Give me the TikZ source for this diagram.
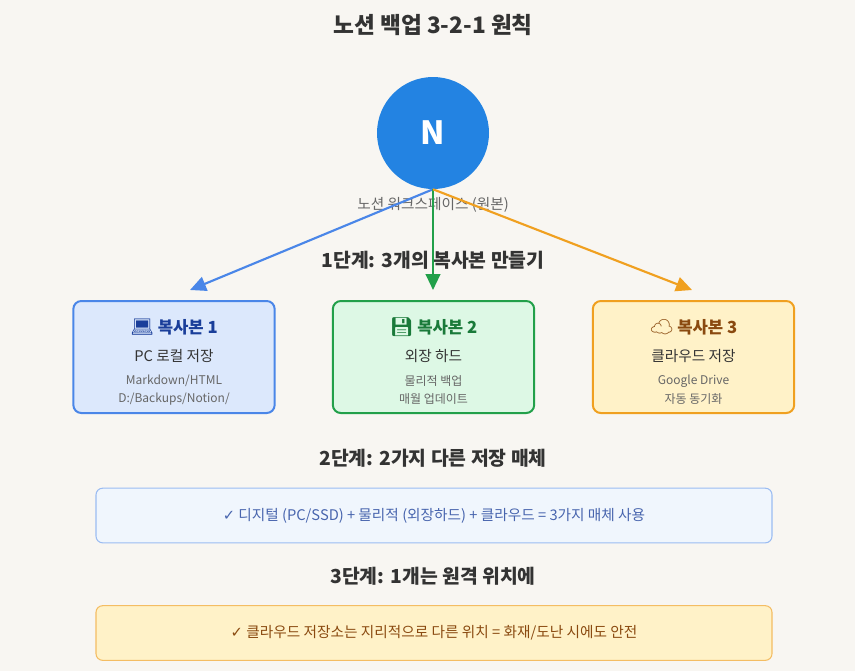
\documentclass[tikz,border=0pt]{standalone}
\usepackage{fontspec}
\setmainfont{Noto Sans CJK KR}
\newfontfamily\emo{Noto Emoji}
\newfontfamily\djsym{DejaVu Sans}
\definecolor{bg}{HTML}{F8F6F2}
\definecolor{nblue}{HTML}{2383E2}
\definecolor{b1}{HTML}{4A86E8}\definecolor{f1}{HTML}{DCE8FC}\definecolor{t1}{HTML}{1A3E9A}
\definecolor{b2}{HTML}{22A04A}\definecolor{f2}{HTML}{DDF8E5}\definecolor{t2}{HTML}{1A7A3A}
\definecolor{b3}{HTML}{F0A020}\definecolor{f3}{HTML}{FFF2C8}\definecolor{t3}{HTML}{8A4A10}
\definecolor{dark}{HTML}{333333}
\definecolor{gr}{HTML}{666666}
\usetikzlibrary{arrows.meta}
\begin{document}
\begin{tikzpicture}[x=0.75pt,y=-0.75pt,
  heading/.style={font=\bfseries\fontsize{14.5}{17}\selectfont,text=dark},
  card/.style={draw=#1,line width=1.5pt,rounded corners=6pt,minimum width=151pt,minimum height=84pt},
  ttl/.style={font=\bfseries\fontsize{12.5}{15}\selectfont},
  sub/.style={font=\fontsize{11}{13}\selectfont,text=dark},
  small/.style={font=\fontsize{9}{11}\selectfont,text=gr},
  arr/.style={line width=1.6pt,-{Triangle[length=12pt,width=11pt]}},
  wide/.style={draw=#1,line width=0.8pt,rounded corners=5pt,minimum width=507pt,minimum height=41pt}]
\fill[bg] (0,0) rectangle (855,671);
\node[font=\bfseries\fontsize{17}{20}\selectfont,text=dark] (title) at (433,25) {노션 백업 3-2-1 원칙};
\node[circle,fill=nblue,minimum size=84pt,inner sep=0pt,text=white,font=\bfseries\fontsize{24}{27}\selectfont] (n) at (433,133) {N};
\node[font=\fontsize{11}{13}\selectfont,text=gr] (nl) at (433,205) {노션 워크스페이스 (원본)};
\node[heading] (s1) at (433,260) {1단계: 3개의 복사본 만들기};
\node[card=b1,fill=f1] (c1) at (174,357) {};
\node[card=b2,fill=f2] (c2) at (433.5,357) {};
\node[card=b3,fill=f3] (c3) at (693.5,357) {};
\coordinate (e1) at (190,290);
\coordinate (e2) at (433,290);
\coordinate (e3) at (692,290);
\draw[arr,draw=b1,fill=b1] (n.south) -- (e1);
\draw[arr,draw=b2,fill=b2] (n.south) -- (e2);
\draw[arr,draw=b3,fill=b3] (n.south) -- (e3);
\node[ttl,text=t1] (h1) at (174,327) {{\emo\fontsize{14}{15}\selectfont 💻} 복사본 1};
\node[sub] (p1) at (174,356) {PC 로컬 저장};
\node[small] (q1) at (174,381) {Markdown/HTML};
\node[small] (r1) at (174,399) {D:/Backups/Notion/};
\node[ttl,text=t2] (h2) at (433.5,327) {{\emo\fontsize{14}{15}\selectfont 💾} 복사본 2};
\node[sub] (p2) at (433.5,356) {외장 하드};
\node[small] (q2) at (433.5,381) {물리적 백업};
\node[small] (r2) at (433.5,399) {매월 업데이트};
\node[ttl,text=t3] (h3) at (693.5,327) {{\emo\fontsize{14}{15}\selectfont ☁} 복사본 3};
\node[sub] (p3) at (693.5,356) {클라우드 저장};
\node[small] (q3) at (693.5,381) {Google Drive};
\node[small] (r3) at (693.5,399) {자동 동기화};
\node[heading] (s2) at (433,458) {2단계: 2가지 다른 저장 매체};
\node[wide=b1!55,fill=nblue!7,text=t1!80,font=\fontsize{11}{13}\selectfont] (w1) at (434,515.5) {{\djsym ✓} 디지털 (PC/SSD) + 물리적 (외장하드) + 클라우드 = 3가지 매체 사용};
\node[heading] (s3) at (433,576) {3단계: 1개는 원격 위치에};
\node[wide=b3!70,fill=f3,text=t3,font=\fontsize{11}{13}\selectfont] (w2) at (434,633) {{\djsym ✓} 클라우드 저장소는 지리적으로 다른 위치 = 화재/도난 시에도 안전};
\end{tikzpicture}
\end{document}
